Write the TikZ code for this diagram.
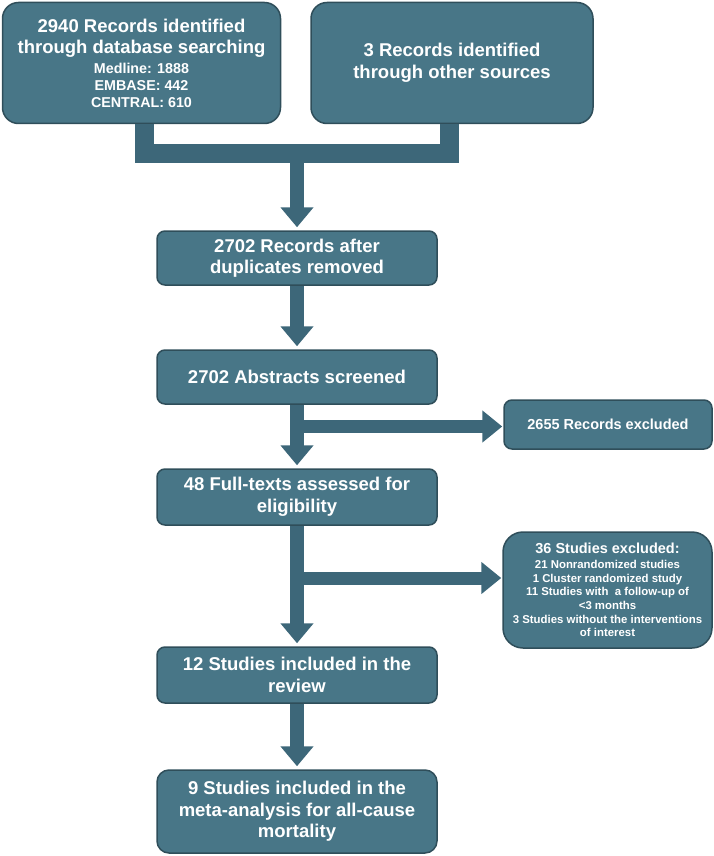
\documentclass[tikz,border=0pt]{standalone}
\usepackage{fontspec}
\setmainfont{Liberation Sans}
\usetikzlibrary{arrows.meta}
\definecolor{boxfill}{HTML}{487687}
\definecolor{boxline}{HTML}{2F4E5A}
\definecolor{arrowcol}{HTML}{3D6779}
\newcommand{\bigtxt}{\fontsize{18.5}{21.5}\selectfont}
\newcommand{\midtxt}{\fontsize{14.5}{17}\selectfont}
\newcommand{\subtxt}{\fontsize{14.3}{17}\selectfont}
\newcommand{\smalltxt}{\fontsize{11.4}{13.7}\selectfont}
\begin{document}
\begin{tikzpicture}[x=1pt,y=-1pt,
  box/.style={draw=boxline, line width=1.5pt, fill=boxfill, text=white,
    font=\bfseries\bigtxt, align=center, inner sep=0pt},
  mainbox/.style={box, rounded corners=8pt, minimum width=280pt},
  flow/.style={draw=arrowcol, line width=14pt,
    -{Triangle[length=20pt,width=32pt]}, shorten >=3pt},
  sideflow/.style={draw=arrowcol, line width=13pt,
    -{Triangle[length=20pt,width=31pt]}, shorten >=1pt},
  barline/.style={draw=arrowcol, line width=19pt, line join=miter},
]
\useasboundingbox (0,0) rectangle (714,856);

\node[box, rounded corners=16pt, minimum width=278pt, minimum height=121pt] (A) at (141.5,63)
  {2940 Records identified\\ through database searching\\[-2pt]
   \subtxt Medline: 1888\\[-4.5pt] \subtxt EMBASE: 442\\[-4.5pt] \subtxt CENTRAL: 610};
\node[box, rounded corners=16pt, minimum width=282pt, minimum height=121pt] (B) at (452,63)
  {3 Records identified\\ through other sources};

\node[mainbox, minimum height=54pt] (C) at (297,258)
  {2702 Records after\\ duplicates removed};
\node[mainbox, minimum height=54pt] (D) at (297,377)
  {2702 Abstracts screened};
\node[box, font=\bfseries\midtxt, rounded corners=8pt, minimum width=208pt, minimum height=49pt] (E) at (608,424.5)
  {2655 Records excluded};
\node[mainbox, minimum height=56pt] (F) at (297,497)
  {48 Full-texts assessed for\\ eligibility};
\node[box, font=\bfseries\smalltxt, rounded corners=20pt, minimum width=209pt, minimum height=116pt] (G) at (607.5,590)
  {\midtxt 36 Studies excluded:\\[1.3pt]
   21 Nonrandomized studies\\ 1 Cluster randomized study\\
   11 Studies with\ \ a follow-up of\\ {<}3 months\\
   3 Studies without the interventions\\ of interest};
\node[mainbox, minimum height=56pt] (H) at (297,675)
  {12 Studies included in the\\ review};
\node[mainbox, rounded corners=12pt, minimum height=83pt] (I) at (297,811.5)
  {9 Studies included in the\\ meta-analysis for all-cause\\ mortality};

\coordinate (m) at (297,153);
\draw[barline] ([xshift=2.5pt]A.south) |- (m) -| ([xshift=-3pt]B.south);
\draw[flow] (m) -- (C.north);
\draw[flow] (C.south) -- (D.north);
\draw[flow] (D.south) -- (F.north);
\draw[flow] (F.south) -- (H.north);
\draw[flow] (H.south) -- (I.north);
\coordinate (e1) at (297,426.5);
\draw[sideflow] (e1) -- (e1 -| E.west);
\coordinate (g1) at (297,578);
\draw[sideflow] (g1) -- (g1 -| G.west);
\end{tikzpicture}
\end{document}
